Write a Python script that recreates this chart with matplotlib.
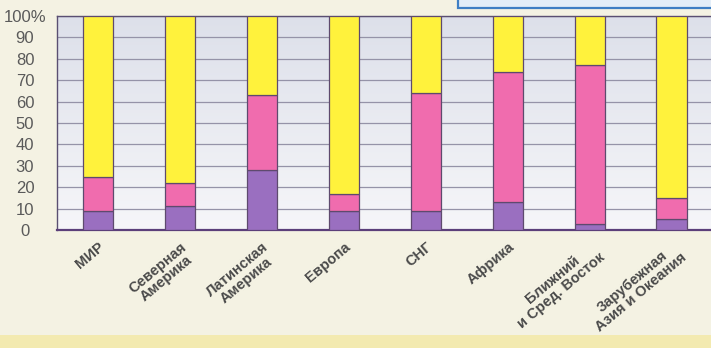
import numpy as np
import matplotlib
matplotlib.use('Agg')
import matplotlib.pyplot as plt
from matplotlib.patches import Rectangle

# regions and shares (%)
regions = ['МИР', 'Северная\nАмерика', 'Латинская\nАмерика', 'Европа', 'СНГ',
           'Африка', 'Ближний\nи Сред. Восток', 'Зарубежная\nАзия и Океания']
share_purple = [9, 11, 28, 9, 9, 13, 3, 5]
share_pink = [16, 11, 35, 8, 55, 61, 74, 10]
share_yellow = [75, 78, 37, 83, 36, 26, 23, 85]
yticks = [0, 10, 20, 30, 40, 50, 60, 70, 80, 90, 100]
ylabels = ['0', '10', '20', '30', '40', '50', '60', '70', '80', '90', '100%']

plt.rcParams['font.family'] = ['Liberation Sans', 'DejaVu Sans']

W, H = 711, 348
fig = plt.figure(figsize=(W / 100, H / 100), dpi=100, facecolor='#f4f2e3')

# yellowish strip at the bottom and the cut-off box at the top right
fig.patches.append(Rectangle((0, 0), 1, 13 / H, transform=fig.transFigure,
                             facecolor='#f3eab0', edgecolor='none', zorder=0))
fig.patches.append(Rectangle((458 / W, (H - 8) / H), 260 / W, 20 / H,
                             transform=fig.transFigure, facecolor='#e4eef8',
                             edgecolor='#3f7fc4', linewidth=1.6, zorder=1))

ax = fig.add_axes([57 / W, (H - 230) / H, 1 - 57 / W, 214 / H])

# soft gradient background of the plot area
grad = np.linspace(0, 1, 256).reshape(-1, 1)
ax.imshow(grad, extent=(-0.5, 7.48, 0, 100), aspect='auto', zorder=0,
          cmap=matplotlib.colors.LinearSegmentedColormap.from_list(
              'bg', ['#f6f6f9', '#dde0ea']), origin='lower')

x = np.arange(len(regions))
w = 0.37
edge = '#5e4a6e'
ax.bar(x, share_purple, w, color='#9a6fc0', edgecolor=edge, linewidth=0.9, zorder=3)
ax.bar(x, share_pink, w, bottom=share_purple, color='#f06cae', edgecolor=edge,
       linewidth=0.9, zorder=3)
bottom2 = np.array(share_purple) + np.array(share_pink)
ax.bar(x, share_yellow, w, bottom=bottom2, color='#fff23c', edgecolor=edge,
       linewidth=0.9, zorder=3)

ax.set_xlim(-0.5, 7.48)
ax.set_ylim(0, 100)
ax.set_yticks(yticks)
ax.set_yticklabels(ylabels, fontsize=12, color='#5a5a5a')
ax.yaxis.grid(True, color='#9593a8', linewidth=0.9, zorder=1)
ax.set_axisbelow(True)
ax.tick_params(axis='y', length=0, pad=23)
plt.setp(ax.get_yticklabels(), ha='center')

ax.set_xticks(x)
ax.set_xticklabels(regions, rotation=40, ha='right', va='top',
                   rotation_mode='anchor', multialignment='center',
                   fontsize=10.5, fontweight='bold', color='#4a4a4a',
                   linespacing=1.0)
ax.tick_params(axis='x', length=0, pad=7)

for side in ['left', 'top', 'right']:
    ax.spines[side].set_color('#5a4f72')
    ax.spines[side].set_linewidth(1.0)
ax.spines['right'].set_visible(False)
ax.spines['bottom'].set_color('#5b3f7a')
ax.spines['bottom'].set_linewidth(1.6)

plt.savefig('out.png', dpi=100, facecolor=fig.get_facecolor())
